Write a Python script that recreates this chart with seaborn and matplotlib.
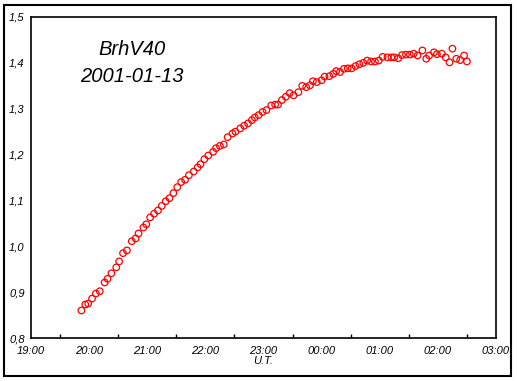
import pandas as pd
import numpy as np
import matplotlib
matplotlib.use("Agg")
import matplotlib.pyplot as plt
import matplotlib.dates as mdates
import seaborn as sns
from matplotlib.patches import Rectangle
from matplotlib.ticker import FixedLocator, FuncFormatter

times = [
    "19:52", "19:56", "19:59", "20:03", "20:07", "20:11", "20:16", "20:19", "20:23", "20:28",
    "20:31", "20:35", "20:39", "20:44", "20:48", "20:51", "20:56", "20:59", "21:03", "21:07",
    "21:11", "21:15", "21:19", "21:23", "21:27", "21:31", "21:35", "21:39", "21:43", "21:48",
    "21:52", "21:55", "21:59", "22:03", "22:08", "22:11", "22:15", "22:19", "22:23", "22:28",
    "22:31", "22:36", "22:40", "22:44", "22:48", "22:51", "22:55", "22:59", "23:03", "23:08",
    "23:12", "23:15", "23:19", "23:23", "23:27", "23:31", "23:36", "23:40", "23:44", "23:48",
    "23:51", "23:55", "00:00", "00:03", "00:08", "00:12", "00:15", "00:19", "00:23", "00:27",
    "00:31", "00:35", "00:39", "00:43", "00:47", "00:51", "00:55", "00:59", "01:03", "01:08",
    "01:12", "01:15", "01:19", "01:23", "01:27", "01:31", "01:35", "01:39", "01:44", "01:48",
    "01:51", "01:56", "01:59", "02:04", "02:08", "02:12", "02:15", "02:19", "02:23", "02:27",
    "02:30",
]
values = [
    0.860, 0.873, 0.875, 0.886, 0.897, 0.902, 0.921, 0.929, 0.941, 0.954,
    0.967, 0.985, 0.991, 1.011, 1.017, 1.028, 1.041, 1.048, 1.063, 1.071,
    1.078, 1.088, 1.098, 1.105, 1.116, 1.129, 1.140, 1.145, 1.155, 1.163,
    1.172, 1.179, 1.190, 1.198, 1.206, 1.214, 1.219, 1.222, 1.238, 1.246,
    1.250, 1.257, 1.263, 1.268, 1.275, 1.281, 1.286, 1.293, 1.297, 1.307,
    1.309, 1.309, 1.319, 1.326, 1.334, 1.329, 1.336, 1.350, 1.347, 1.351,
    1.360, 1.358, 1.362, 1.370, 1.371, 1.376, 1.382, 1.380, 1.387, 1.388,
    1.388, 1.393, 1.397, 1.400, 1.405, 1.403, 1.403, 1.405, 1.413, 1.412,
    1.412, 1.412, 1.410, 1.417, 1.418, 1.418, 1.420, 1.416, 1.427, 1.409,
    1.416, 1.423, 1.419, 1.420, 1.412, 1.401, 1.431, 1.409, 1.406, 1.416,
    1.403,
]
y_ticks = [0.8, 0.9, 1.0, 1.1, 1.2, 1.3, 1.4, 1.5]
star_name = "BrhV40"
obs_date = "2001-01-13"

# Build datetimes, wrapping past midnight to the next day
dt = pd.to_datetime(["2001-01-13 " + t for t in times])
dt = [d + pd.Timedelta(days=1) if d.hour < 12 else d for d in dt]
df = pd.DataFrame({"time": dt, "value": values})

sns.set_style("white")
plt.rcParams["font.family"] = ["Liberation Sans", "DejaVu Sans"]
plt.rcParams["font.style"] = "italic"
plt.rcParams["text.color"] = "black"
plt.rcParams["axes.labelcolor"] = "black"

fig = plt.figure(figsize=(5.17, 3.81), dpi=100)
fig.patches.append(Rectangle((4 / 517, 5 / 381), 507 / 517, 371 / 381,
                             transform=fig.transFigure, fill=False,
                             edgecolor="black", linewidth=1.5))
ax = fig.add_axes([31 / 517, 43 / 381, 465 / 517, 321 / 381])

sns.scatterplot(data=df, x="time", y="value", ax=ax, marker="o",
                facecolors="none", edgecolor="red", linewidth=0.9, s=22)

ax.set_xlim(pd.Timestamp("2001-01-13 19:00"), pd.Timestamp("2001-01-14 03:00"))
ax.set_ylim(0.8, 1.5)
ax.xaxis.set_major_locator(mdates.HourLocator(interval=1))
ax.xaxis.set_minor_locator(mdates.MinuteLocator(byminute=[30]))
ax.xaxis.set_major_formatter(mdates.DateFormatter("%H:%M"))
ax.yaxis.set_major_locator(FixedLocator(y_ticks))
ax.yaxis.set_major_formatter(FuncFormatter(lambda v, p: f"{v:.1f}".replace(".", ",")))

ax.tick_params(axis="both", which="major", direction="inout", length=7, width=1,
               labelsize=8, color="black", labelcolor="black")
ax.tick_params(axis="x", which="minor", direction="in", length=3, width=1, color="black",
               bottom=True)
ax.tick_params(axis="x", pad=2)
ax.tick_params(axis="y", pad=1)

for side in ["left", "bottom", "right", "top"]:
    ax.spines[side].set_visible(True)
    ax.spines[side].set_color("black")
    ax.spines[side].set_linewidth(1.2)

ax.set_xlabel("U.T.", fontsize=8, labelpad=0)
ax.set_ylabel("")

ax.text(0.217, 0.90, star_name, transform=ax.transAxes, ha="center", va="center",
        fontsize=14.5)
ax.text(0.217, 0.815, obs_date, transform=ax.transAxes, ha="center", va="center",
        fontsize=14.5)

plt.savefig("out.png", dpi=100)
